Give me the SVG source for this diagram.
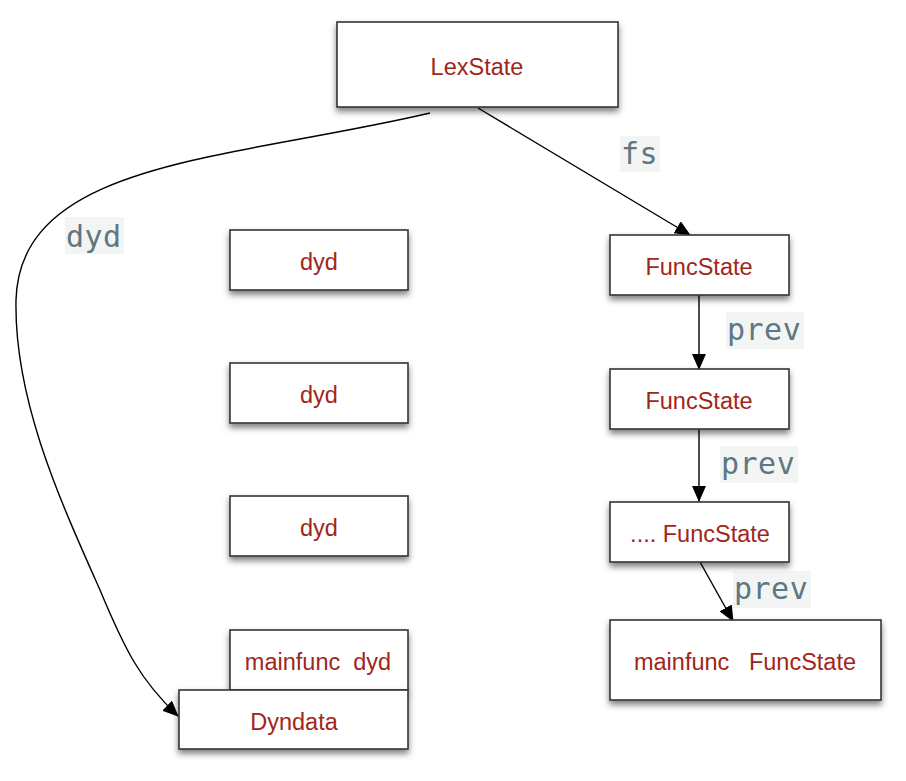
<svg xmlns="http://www.w3.org/2000/svg" width="906" height="781" viewBox="0 0 906 781">
<defs>
<filter id="sh" x="-10%" y="-20%" width="120%" height="150%">
<feDropShadow dx="0" dy="4" stdDeviation="3" flood-color="#000" flood-opacity="0.5"/>
</filter>
<marker id="ah" markerWidth="16" markerHeight="14" refX="15" refY="7" orient="auto" markerUnits="userSpaceOnUse">
<path d="M0,0 L16,7 L0,14 Z" fill="#000"/>
</marker>
<style>
.box{fill:#fff;stroke:#333;stroke-width:1.6;filter:url(#sh)}
.t{font-family:"Liberation Sans",Arial,sans-serif;font-size:23.5px;fill:#a0261a;text-anchor:middle}
.lb{fill:#f3f4f4}
.lt{font-family:"DejaVu Sans Mono",monospace;font-size:30px;fill:#5f7782;letter-spacing:0.5px}
.c{fill:none;stroke:#000;stroke-width:1.4}
</style>
</defs>
<rect width="906" height="781" fill="#fff"/>
<g id="connectors">
<path class="c" d="M478,108 L690,235" marker-end="url(#ah)"/>
<path class="c" d="M699,295 L699,369" marker-end="url(#ah)"/>
<path class="c" d="M699,429 L699,501" marker-end="url(#ah)"/>
<path class="c" d="M700,562 L733,621" marker-end="url(#ah)"/>
<path class="c" d="M430,113 C230,160 20,160 16,300 C14,400 60,500 100,590 C125,650 140,680 178,716" marker-end="url(#ah)"/>
<rect class="lb" x="620" y="136" width="40" height="36"/>
<text class="lt" x="621" y="164">fs</text>
<rect class="lb" x="65" y="217" width="59" height="37"/>
<text class="lt" x="66" y="247">dyd</text>
<rect class="lb" x="726" y="312" width="78" height="37"/>
<text class="lt" x="727" y="340">prev</text>
<rect class="lb" x="720" y="446" width="78" height="37"/>
<text class="lt" x="721" y="474">prev</text>
<rect class="lb" x="733" y="571" width="78" height="37"/>
<text class="lt" x="734" y="599">prev</text>
</g>
<g id="lexstate"><rect class="box" x="337" y="22" width="281" height="85"/><text class="t" x="477" y="74.5">LexState</text></g>
<g id="dyd1"><rect class="box" x="230" y="230" width="178" height="60"/><text class="t" x="319" y="269.5">dyd</text></g>
<g id="dyd2"><rect class="box" x="230" y="363" width="178" height="60"/><text class="t" x="319" y="402.5">dyd</text></g>
<g id="dyd3"><rect class="box" x="230" y="496" width="178" height="60"/><text class="t" x="319" y="535.5">dyd</text></g>
<g id="mainfuncdyd"><rect class="box" x="230" y="630" width="178" height="60"/><text class="t" x="318" y="669.5" xml:space="preserve">mainfunc  dyd</text></g>
<g id="dyndata"><rect class="box" x="179" y="690" width="229" height="59"/><text class="t" x="294" y="729.5">Dyndata</text></g>
<g id="funcstate1"><rect class="box" x="610" y="235" width="179" height="60"/><text class="t" x="699" y="275">FuncState</text></g>
<g id="funcstate2"><rect class="box" x="610" y="369" width="179" height="60"/><text class="t" x="699" y="409">FuncState</text></g>
<g id="funcstate3"><rect class="box" x="610" y="502" width="179" height="60"/><text class="t" x="700" y="541.5">.... FuncState</text></g>
<g id="mainfuncstate"><rect class="box" x="610" y="620" width="271" height="80"/><text class="t" x="745" y="670" xml:space="preserve">mainfunc   FuncState</text></g>
</svg>
